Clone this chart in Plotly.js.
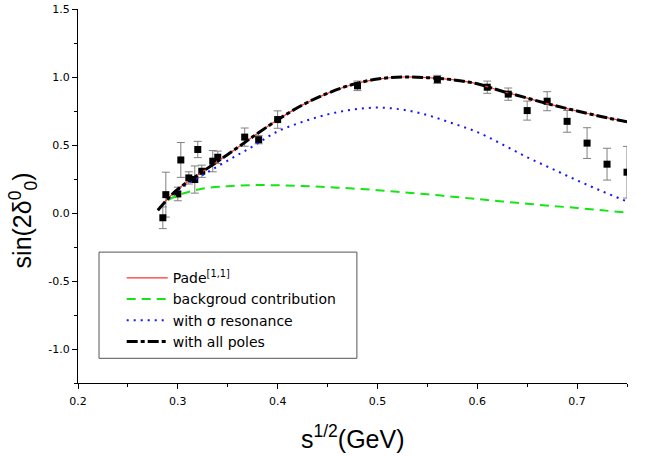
<!DOCTYPE html>
<html>
<head>
<meta charset="utf-8">
<script src="https://cdn.plot.ly/plotly-3.0.1.min.js"></script>
<style>
  html, body { margin: 0; padding: 0; background: #fff; }
  #chart { width: 654px; height: 456px; }
</style>
</head>
<body>
<div id="chart"></div>
<script>
// experimental points with errors
const dataX = [0.285, 0.288, 0.300, 0.303, 0.311, 0.317, 0.320, 0.324, 0.335, 0.340, 0.367, 0.381,
  0.400, 0.480, 0.560, 0.610, 0.631, 0.650, 0.670, 0.690, 0.710, 0.730, 0.750];
const dataY = [-0.035, 0.135, 0.140, 0.390, 0.258, 0.246, 0.467, 0.307, 0.381, 0.410, 0.558, 0.539,
  0.687, 0.935, 0.982, 0.925, 0.874, 0.753, 0.822, 0.674, 0.514, 0.359, 0.300];
const dataErr = [0.08, 0.165, 0.05, 0.128, 0.045, 0.10, 0.06, 0.045, 0.078, 0.045, 0.067, 0.03,
  0.064, 0.035, 0.03, 0.045, 0.045, 0.07, 0.07, 0.08, 0.113, 0.117, 0.19];

// curves
const fullX = [0.28, 0.29, 0.30, 0.325, 0.35, 0.375, 0.40, 0.425, 0.45, 0.475, 0.50, 0.525,
  0.55, 0.575, 0.60, 0.625, 0.65, 0.675, 0.70, 0.725, 0.75];
const padeY = [0.02, 0.105, 0.175, 0.305, 0.43, 0.56, 0.685, 0.795, 0.88, 0.945, 0.985, 1.0,
  0.995, 0.98, 0.95, 0.895, 0.845, 0.795, 0.75, 0.708, 0.67];
const allPolesY = [0.02, 0.105, 0.175, 0.305, 0.43, 0.56, 0.685, 0.795, 0.88, 0.945, 0.985, 1.0,
  0.995, 0.98, 0.95, 0.895, 0.845, 0.795, 0.75, 0.708, 0.67];

const partX = [0.29, 0.30, 0.325, 0.35, 0.375, 0.40, 0.425, 0.45, 0.475, 0.50, 0.525,
  0.55, 0.575, 0.60, 0.625, 0.65, 0.675, 0.70, 0.725, 0.75];
const sigmaY = [0.10, 0.165, 0.28, 0.385, 0.49, 0.60, 0.67, 0.725, 0.76, 0.775, 0.76,
  0.72, 0.66, 0.595, 0.505, 0.41, 0.325, 0.24, 0.16, 0.085];
const backY = [0.095, 0.13, 0.18, 0.197, 0.205, 0.204, 0.198, 0.19, 0.18, 0.168, 0.153,
  0.138, 0.12, 0.103, 0.085, 0.068, 0.052, 0.037, 0.02, 0.003];

const xTicks = [0.2, 0.3, 0.4, 0.5, 0.6, 0.7];
const xTickText = ["0.2", "0.3", "0.4", "0.5", "0.6", "0.7"];
const yTicks = [-1.0, -0.5, 0.0, 0.5, 1.0, 1.5];
const yTickText = ["-1.0", "-0.5", "0.0", "0.5", "1.0", "1.5"];

const legendNames = ["Pade<sup>[1,1]</sup>", "backgroud contribution", "with σ resonance", "with all poles"];

const traces = [
  {
    x: dataX, y: dataY, type: "scatter", mode: "markers", showlegend: false,
    marker: { symbol: "square", size: 7, color: "#000" },
    error_y: { type: "data", array: dataErr, color: "#808080", thickness: 1, width: 4 },
  },
  {
    x: partX, y: backY, type: "scatter", mode: "lines", name: legendNames[1], legendrank: 2,
    line: { color: "#14e614", width: 2, dash: "9px,6px", shape: "spline" },
  },
  {
    x: partX, y: sigmaY, type: "scatter", mode: "lines", name: legendNames[2], legendrank: 3,
    line: { color: "#1414ff", width: 2, dash: "2px,5px", shape: "spline" },
  },
  {
    x: fullX, y: padeY, type: "scatter", mode: "lines", name: legendNames[0], legendrank: 1,
    line: { color: "#ff3030", width: 1.2, shape: "spline" },
  },
  {
    x: fullX, y: allPolesY, type: "scatter", mode: "lines", name: legendNames[3], legendrank: 4,
    line: { color: "#000", width: 3, dash: "11px,3px,4px,3px", shape: "spline" },
  },
];

const axisBase = {
  showline: true, linecolor: "#000", linewidth: 1, showgrid: false, zeroline: false,
  ticks: "outside", ticklen: 5, tickcolor: "#000", tickwidth: 1,
  tickfont: { family: "DejaVu Sans", size: 11, color: "#000" },
};

const layout = {
  width: 654, height: 456,
  margin: { l: 78, r: 27, t: 9, b: 73 },
  paper_bgcolor: "#fff", plot_bgcolor: "#fff",
  xaxis: Object.assign({}, axisBase, {
    range: [0.2, 0.75], tickmode: "array", tickvals: xTicks, ticktext: xTickText,
    ticklabelstandoff: 3,
    minor: { tickmode: "linear", tick0: 0.2, dtick: 0.05, ticks: "outside", ticklen: 3, tickcolor: "#000" },
  }),
  yaxis: Object.assign({}, axisBase, {
    range: [-1.25, 1.5], tickmode: "array", tickvals: yTicks, ticktext: yTickText,
    minor: { tickmode: "linear", tick0: 0, dtick: 0.25, ticks: "outside", ticklen: 3, tickcolor: "#000" },
  }),
  showlegend: true,
  legend: {
    x: 0.0796, xanchor: "left", y: 0.323, yanchor: "top",
    bgcolor: "rgba(0,0,0,0)", borderwidth: 0, itemwidth: 41,
    font: { family: "DejaVu Sans", size: 14, color: "#000" },
  },
  shapes: [
    {
      type: "rect", xref: "paper", yref: "paper", layer: "below",
      x0: 0.0383, x1: 0.508, y0: 0.066, y1: 0.35,
      line: { color: "#555", width: 1 }, fillcolor: "#fff",
    },
  ],
  annotations: [
    {
      text: "s<sup>1/2</sup>(GeV)", xref: "paper", yref: "paper", x: 0.5, y: -0.145,
      xanchor: "center", yanchor: "middle", showarrow: false,
      font: { family: "Liberation Sans", size: 25, color: "#000" },
    },
    {
      text: "sin(2δ<sup>0</sup><sub>0</sub>)", xref: "paper", yref: "paper", x: -0.1, y: 0.435,
      xanchor: "center", yanchor: "middle", textangle: -90, showarrow: false,
      font: { family: "Liberation Sans", size: 25, color: "#000" },
    },
  ],
};

Plotly.newPlot("chart", traces, layout, { displayModeBar: false, staticPlot: true });
</script>
</body>
</html>
